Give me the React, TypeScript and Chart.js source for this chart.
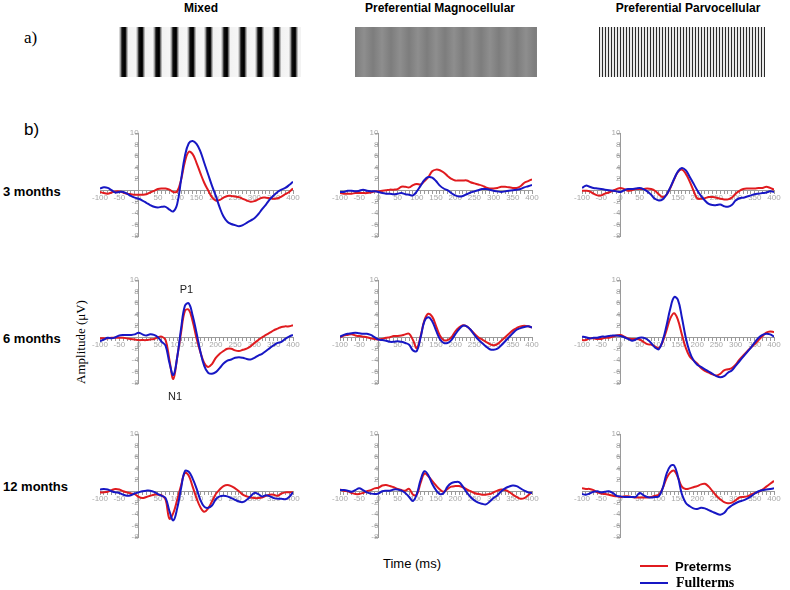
import React, { useEffect, useRef } from "react";
import { Chart, registerables } from "chart.js";
Chart.register(...registerables);

// Time axis (ms)
const timesMs = [-100, -90, -80, -70, -60, -50, -40, -30, -20, -10, 0, 10, 20, 30, 40, 50, 60, 70, 80, 90, 100, 110, 120, 130, 140, 150, 160, 170, 180, 190, 200, 210, 220, 230, 240, 250, 260, 270, 280, 290, 300, 310, 320, 330, 340, 350, 360, 370, 380, 390, 400];
const xTickLabels = [-100, -50, 0, 50, 100, 150, 200, 250, 300, 350, 400];
const yTickLabels = [-8, -6, -4, -2, 2, 4, 6, 8, 10];

const columnTitles = ["Mixed", "Preferential Magnocellular", "Preferential Parvocellular"];
const rowTitles = ["3 months", "6 months", "12 months"];
const seriesNames = ["Preterms", "Fullterms"];

// 3 months
const mixed3Pre = [-0.3, -0.5, -0.6, -0.4, -0.2, -0.2, -0.4, -0.6, -0.7, -0.8, -0.8, -0.8, -0.7, -0.4, -0.1, 0.2, 0.3, 0.3, 0.1, -0.3, -0.2, 1.8, 5.0, 6.7, 6.3, 4.8, 3.0, 1.3, 0.0, -1.2, -1.8, -1.7, -1.3, -1.0, -1.0, -1.1, -1.2, -1.5, -1.8, -2.0, -1.9, -1.6, -1.3, -1.3, -1.4, -1.5, -1.4, -1.1, -0.7, -0.3, 0.3];
const mixed3Full = [0.3, 0.5, 0.4, 0.0, -0.4, -0.3, -0.3, -0.6, -1.0, -1.3, -1.5, -1.8, -2.2, -2.6, -2.9, -3.0, -2.9, -2.9, -3.4, -3.7, -2.4, 1.8, 6.0, 8.2, 8.6, 8.1, 6.8, 4.8, 2.8, 0.8, -1.0, -3.0, -4.6, -5.5, -5.9, -6.1, -6.3, -6.1, -5.7, -5.3, -4.9, -4.2, -3.3, -2.5, -1.6, -0.9, -0.3, 0.1, 0.4, 0.9, 1.5];
const magno3Pre = [-0.5, -0.6, -0.6, -0.6, -0.5, -0.5, -0.5, -0.5, -0.4, -0.2, -0.2, -0.1, 0.0, 0.1, 0.1, 0.2, 0.6, 0.6, 0.5, 0.9, 1.1, 1.0, 1.6, 2.3, 3.3, 3.6, 3.5, 3.1, 2.5, 2.0, 1.7, 1.7, 1.7, 1.7, 1.4, 1.2, 1.0, 0.8, 0.5, 0.3, 0.3, 0.4, 0.6, 0.6, 0.5, 0.4, 0.4, 0.7, 1.3, 1.6, 1.9];
const magno3Full = [-0.3, -0.3, -0.1, -0.1, -0.2, -0.1, 0.1, -0.1, -0.2, -0.2, -0.3, -0.5, -0.6, -0.6, -0.7, -0.6, -0.5, -0.7, -0.8, -0.9, -0.2, 0.8, 1.8, 2.3, 2.2, 1.6, 0.8, 0.3, 0.0, -0.5, -0.9, -1.1, -1.0, -0.7, -0.4, -0.2, 0.0, 0.2, 0.2, 0.1, -0.1, -0.2, -0.3, -0.2, -0.1, 0.0, 0.1, 0.2, 0.5, 0.7, 0.9];
const parvo3Pre = [-0.1, -0.1, -0.2, -0.6, -0.9, -0.9, -0.6, -0.4, -0.1, 0.2, 0.4, 0.2, -0.1, 0.0, 0.2, 0.2, 0.2, 0.3, 0.2, -0.1, -0.7, -1.2, -0.8, 0.4, 1.9, 3.2, 3.6, 2.9, 1.6, 0.0, -1.4, -1.5, -1.4, -1.2, -1.2, -1.3, -1.5, -1.6, -1.6, -1.3, -0.6, -0.1, 0.2, 0.3, 0.3, 0.3, 0.4, 0.4, 0.6, 0.4, 0.1];
const parvo3Full = [0.4, 0.8, 0.6, 0.4, 0.3, 0.2, 0.1, 0.0, -0.1, -0.2, -0.3, 0.0, 0.2, 0.2, 0.3, 0.4, 0.2, -0.2, -0.8, -1.5, -1.8, -1.6, -0.8, 0.5, 2.0, 3.3, 3.9, 3.5, 2.4, 1.2, 0.0, -1.0, -1.8, -2.4, -2.6, -2.6, -2.5, -2.8, -2.9, -2.6, -1.8, -1.4, -1.3, -1.1, -0.9, -0.7, -0.6, -0.5, -0.4, -0.2, -0.3];

// 6 months
const mixed6Pre = [-0.2, -0.2, -0.2, -0.1, -0.1, -0.1, -0.1, -0.2, -0.3, -0.4, -0.5, -0.5, -0.5, -0.4, -0.3, 0.0, 0.1, -0.5, -4.0, -7.3, -3.5, 0.8, 4.6, 4.8, 2.8, -0.2, -2.6, -4.5, -5.2, -4.7, -3.6, -2.9, -2.4, -2.0, -2.0, -2.3, -2.4, -2.2, -2.0, -1.6, -1.0, -0.5, 0.0, 0.4, 0.8, 1.2, 1.5, 1.8, 1.9, 1.9, 2.1];
const mixed6Full = [-0.7, -0.4, -0.1, -0.2, 0.0, 0.3, 0.4, 0.4, 0.4, 0.5, 0.8, 0.5, 0.3, 0.5, 0.4, 0.0, -0.8, -1.5, -4.5, -6.6, -3.5, 1.5, 5.5, 5.9, 3.8, 0.8, -2.5, -5.0, -6.2, -6.4, -6.1, -5.4, -4.6, -4.1, -3.9, -3.6, -3.5, -3.6, -3.8, -3.9, -3.6, -3.2, -2.9, -2.4, -1.9, -1.4, -1.0, -0.8, -0.3, 0.1, 0.4];
const magno6Pre = [0.0, 0.3, 0.4, 0.5, 0.3, 0.2, 0.1, 0.0, -0.2, -0.3, -0.4, -0.3, -0.1, 0.0, 0.2, 0.2, 0.3, 0.5, 0.6, -0.5, -1.9, 0.2, 3.0, 4.1, 3.6, 2.0, 0.3, -0.5, -0.5, 0.0, 1.0, 1.7, 2.1, 1.9, 1.3, 0.6, 0.0, -0.4, -0.8, -1.2, -1.4, -1.2, -0.6, 0.0, 0.6, 1.2, 1.6, 1.9, 2.0, 1.9, 1.7];
const magno6Full = [0.1, 0.4, 0.6, 0.7, 0.8, 0.7, 0.6, 0.6, 0.4, 0.0, -0.4, -0.5, -0.6, -0.8, -0.8, -0.7, -0.8, -1.0, -1.3, -2.3, -2.4, 0.0, 2.8, 3.5, 2.8, 1.2, -0.3, -1.0, -1.0, -0.5, 0.5, 1.4, 2.0, 1.9, 1.3, 0.4, -0.4, -1.0, -1.6, -2.1, -2.2, -2.0, -1.4, -0.7, 0.0, 0.7, 1.3, 1.6, 1.8, 1.9, 1.7];
const parvo6Pre = [-0.5, -0.5, -0.2, -0.2, -0.3, -0.3, -0.1, -0.1, 0.1, 0.3, 0.4, 0.1, -0.2, -0.3, -0.3, -0.4, -0.8, -1.2, -1.3, -1.6, -1.9, -0.8, 1.2, 3.3, 4.2, 3.0, 0.5, -1.8, -3.3, -4.0, -4.6, -5.4, -5.9, -6.2, -6.5, -6.7, -6.4, -5.8, -5.6, -5.4, -4.8, -3.9, -3.2, -2.5, -1.8, -1.2, -0.5, 0.2, 0.8, 1.0, 0.9];
const parvo6Full = [0.1, 0.0, -0.2, -0.1, -0.1, 0.1, 0.1, 0.2, 0.3, 0.3, 0.2, 0.0, -0.3, -0.6, -0.4, -0.1, -0.1, -0.4, -1.0, -1.8, -2.1, -0.6, 2.0, 5.0, 7.0, 6.5, 3.5, 0.0, -2.5, -4.0, -4.8, -5.2, -5.6, -6.0, -6.4, -6.8, -7.0, -6.8, -6.2, -5.8, -5.0, -4.2, -3.4, -2.6, -1.8, -0.9, -0.1, 0.4, 0.6, 0.5, 0.1];

// 12 months
const mixed12Pre = [-0.2, -0.2, -0.1, 0.2, 0.4, 0.3, 0.0, -0.2, -0.4, -0.5, -1.0, -1.2, -1.0, -0.8, -0.6, -0.6, -0.7, -1.5, -4.8, -3.8, -1.5, 1.0, 3.2, 2.7, 0.8, -1.2, -2.8, -3.6, -3.0, -1.8, -0.5, 0.3, 0.9, 1.1, 0.9, 0.5, 0.0, -0.6, -0.9, -1.1, -1.2, -1.2, -1.1, -0.8, -0.6, -0.6, -0.8, -0.4, -0.2, -0.2, -0.2];
const mixed12Full = [0.3, 0.4, 0.3, 0.0, -0.2, -0.3, -0.6, -0.8, -0.7, -0.4, -0.2, 0.0, 0.1, 0.1, -0.1, -0.5, -0.8, -1.2, -3.5, -5.1, -3.0, 0.5, 3.5, 3.4, 2.2, 0.5, -1.5, -2.7, -2.9, -2.5, -1.4, -0.9, -0.8, -0.9, -1.2, -1.5, -1.8, -1.9, -1.5, -0.9, -0.3, -0.5, -0.9, -0.7, -0.9, -1.2, -1.3, -1.3, -1.4, -1.0, -0.2];
const magno12Pre = [0.3, 0.1, 0.0, -0.3, -0.5, -0.5, -0.3, 0.0, 0.2, 0.5, 0.6, 1.0, 1.1, 0.9, 0.7, 0.4, 0.2, 0.1, 0.4, -0.6, -0.6, 1.5, 3.1, 2.6, 1.8, 1.0, 0.3, -0.1, 0.4, 0.8, 0.9, 0.9, 0.7, 0.3, 0.0, -0.3, -0.5, -0.6, -0.6, -0.5, -0.2, 0.1, 0.3, 0.2, -0.1, -0.6, -1.0, -1.3, -1.2, -0.7, -0.2];
const magno12Full = [0.2, 0.2, 0.1, -0.1, 0.2, 0.5, 0.2, -0.2, -0.4, -0.5, -0.4, 0.0, 0.1, 0.1, 0.3, 0.3, 0.1, -0.3, -1.0, -1.7, -0.5, 2.0, 3.5, 2.8, 1.3, 0.2, -0.5, -0.3, 0.8, 1.4, 1.6, 1.6, 0.8, -0.2, -1.0, -1.6, -2.0, -2.2, -2.3, -1.8, -1.2, -0.7, 0.0, 0.5, 0.8, 1.0, 0.9, 0.5, 0.1, -0.2, -0.3];
const parvo12Pre = [0.5, 0.4, 0.4, 0.2, -0.2, -0.4, -0.5, -0.6, -0.8, -0.9, -1.0, -0.9, -0.9, -1.0, -1.1, -1.1, -1.1, -1.1, -1.0, -0.8, -0.6, 0.5, 2.2, 3.3, 3.6, 2.4, 0.8, 0.4, 0.5, 0.7, 0.9, 1.2, 1.3, 0.8, 0.0, -0.8, -1.4, -1.9, -2.1, -2.0, -1.6, -1.1, -1.0, -0.9, -0.6, -0.3, -0.1, 0.3, 0.8, 1.3, 1.8];
const parvo12Full = [-0.5, -0.6, -0.4, -0.1, 0.0, -0.2, -0.1, 0.0, -0.3, -0.8, -0.9, -1.0, -1.0, -1.0, -1.0, -0.3, -0.7, -1.0, -1.1, -1.0, -0.9, 0.5, 3.0, 4.4, 4.5, 2.5, -0.5, -2.0, -2.6, -3.0, -3.1, -2.9, -3.0, -3.3, -3.6, -3.9, -4.1, -3.8, -3.0, -2.5, -2.1, -1.8, -1.6, -1.3, -0.9, -0.4, 0.0, 0.2, 0.3, 0.4, 0.5];

const RED = "#e01b1f";
const BLUE = "#1717c4";
const AXIS = "#9a9a9a";
const TICK_TEXT = "#a8a8a8";

const PAD = { left: 25, right: 25, top: 10, bottom: 10 };
const colX = [
  [100, 293],
  [340, 532],
  [582, 774],
];
const rowY = [
  [133, 236],
  [280, 383],
  [434, 537],
];

const panels = [
  [mixed3Pre, mixed3Full, 0, 0],
  [magno3Pre, magno3Full, 1, 0],
  [parvo3Pre, parvo3Full, 2, 0],
  [mixed6Pre, mixed6Full, 0, 1],
  [magno6Pre, magno6Full, 1, 1],
  [parvo6Pre, parvo6Full, 2, 1],
  [mixed12Pre, mixed12Full, 0, 2],
  [magno12Pre, magno12Full, 1, 2],
  [parvo12Pre, parvo12Full, 2, 2],
] as const;

function Panel(props: { pre: readonly number[]; full: readonly number[]; col: number; row: number }) {
  const ref = useRef<HTMLCanvasElement>(null);
  const [l, r] = colX[props.col];
  const [t, b] = rowY[props.row];
  const w = r - l + PAD.left + PAD.right;
  const h = b - t + PAD.top + PAD.bottom;
  useEffect(() => {
    const font = { family: "'Liberation Sans', Arial, sans-serif", size: 8 };
    const chart = new Chart(ref.current as HTMLCanvasElement, {
      type: "line",
      data: {
        datasets: [
          {
            label: seriesNames[1],
            data: timesMs.map((x, i) => ({ x, y: props.full[i] })),
            borderColor: BLUE,
            borderWidth: 2,
            pointRadius: 0,
            tension: 0.4,
          },
          {
            label: seriesNames[0],
            data: timesMs.map((x, i) => ({ x, y: props.pre[i] })),
            borderColor: RED,
            borderWidth: 2,
            pointRadius: 0,
            tension: 0.4,
          },
        ],
      },
      options: {
        animation: false,
        responsive: false,
        events: [],
        layout: { padding: PAD },
        plugins: { legend: { display: false }, tooltip: { enabled: false }, title: { display: false } },
        scales: {
          x: {
            type: "linear",
            min: -100,
            max: 400,
            position: { y: 0 } as any,
            grid: { drawOnChartArea: false, drawTicks: true, tickLength: 3, color: AXIS },
            border: { color: AXIS, width: 1 },
            ticks: {
              stepSize: 10,
              autoSkip: false,
              maxRotation: 0,
              minRotation: 0,
              padding: 0,
              color: TICK_TEXT,
              font,
              callback: (v: any) => (xTickLabels.includes(Math.round(Number(v))) ? String(Math.round(Number(v))) : ""),
            },
          },
          y: {
            type: "linear",
            min: -8,
            max: 10,
            position: { x: 0 } as any,
            grid: { drawOnChartArea: false, drawTicks: true, tickLength: 3, color: AXIS },
            border: { color: AXIS, width: 1 },
            ticks: {
              stepSize: 2,
              autoSkip: false,
              padding: 2,
              color: TICK_TEXT,
              font,
              callback: (v: any) => (yTickLabels.includes(Math.round(Number(v))) ? String(Math.round(Number(v))) : ""),
            },
          },
        },
      },
    });
    return () => chart.destroy();
  }, []);
  return (
    <canvas
      ref={ref}
      width={w}
      height={h}
      style={{ position: "absolute", left: l - PAD.left, top: t - PAD.top, width: w, height: h }}
    />
  );
}

const sans = "'Liberation Sans', Arial, sans-serif";
const serif = "'Liberation Serif', 'Times New Roman', serif";

function Label(props: { x: number; y: number; text: string; style?: React.CSSProperties; anchor?: "center" | "left" }) {
  const tx = props.anchor === "left" ? "0" : "-50%";
  return (
    <div
      style={{
        position: "absolute",
        left: props.x,
        top: props.y,
        transform: `translate(${tx}, -50%)`,
        whiteSpace: "nowrap",
        lineHeight: 1,
        ...props.style,
      }}
    >
      {props.text}
    </div>
  );
}

const gratingStyles: React.CSSProperties[] = [
  {
    left: 119,
    width: 182,
    background:
      "repeating-linear-gradient(to right, #f2f2f2 0px, #9a9a9a 1.5px, #111 3px, #000 5.5px, #111 6.5px, #9a9a9a 8px, #f2f2f2 9.5px, #f6f6f6 17px)",
  },
  {
    left: 355,
    width: 182,
    background: "repeating-linear-gradient(to right, #7d7d7d 0px, #8e8e8e 9px, #7d7d7d 18px)",
  },
  {
    left: 599,
    width: 166,
    background: "repeating-linear-gradient(to right, #2a2a2a 0px, #2a2a2a 1px, #e8e8e8 1px, #e8e8e8 3px)",
  },
];

export default function App() {
  return (
    <div
      style={{
        position: "absolute",
        left: 0,
        top: 0,
        width: 790,
        height: 590,
        background: "#fff",
        overflow: "hidden",
        fontFamily: sans,
        color: "#000",
      }}
    >
      {/* Column titles */}
      <Label x={201} y={8} text={columnTitles[0]} style={{ fontWeight: "bold", fontSize: 12 }} />
      <Label x={440} y={8} text={columnTitles[1]} style={{ fontWeight: "bold", fontSize: 12 }} />
      <Label x={688} y={8} text={columnTitles[2]} style={{ fontWeight: "bold", fontSize: 12 }} />

      <Label x={24} y={37} anchor="left" text="a)" style={{ fontFamily: serif, fontSize: 17 }} />
      <Label x={24} y={129} anchor="left" text="b)" style={{ fontFamily: sans, fontSize: 17 }} />

      {gratingStyles.map((g, i) => (
        <div key={i} style={{ position: "absolute", top: 27, height: 50, ...g }} />
      ))}

      {/* Row titles */}
      <Label x={3} y={191} anchor="left" text={rowTitles[0]} style={{ fontWeight: "bold", fontSize: 13 }} />
      <Label x={3} y={338} anchor="left" text={rowTitles[1]} style={{ fontWeight: "bold", fontSize: 13 }} />
      <Label x={3} y={486} anchor="left" text={rowTitles[2]} style={{ fontWeight: "bold", fontSize: 13 }} />

      <div
        style={{
          position: "absolute",
          left: 80,
          top: 342,
          transform: "translate(-50%, -50%) rotate(-90deg)",
          whiteSpace: "nowrap",
          fontFamily: serif,
          fontSize: 13,
          lineHeight: 1,
        }}
      >
        Amplitude (μV)
      </div>

      {panels.map(([pre, full, c, r], i) => (
        <Panel key={i} pre={pre} full={full} col={c} row={r} />
      ))}

      <Label x={186.5} y={289} text="P1" style={{ fontSize: 11, color: "#222" }} />
      <Label x={175} y={396} text="N1" style={{ fontSize: 11, color: "#222" }} />

      <Label x={412} y={563} text="Time (ms)" style={{ fontSize: 13 }} />

      {/* Legend */}
      <div style={{ position: "absolute", left: 640, top: 565, width: 28, height: 2, background: RED }} />
      <div style={{ position: "absolute", left: 640, top: 582, width: 28, height: 2, background: BLUE }} />
      <Label x={675} y={566} anchor="left" text={seriesNames[0]} style={{ fontWeight: "bold", fontSize: 13 }} />
      <Label x={676} y={583} anchor="left" text={seriesNames[1]} style={{ fontWeight: "bold", fontSize: 14, fontFamily: serif }} />
    </div>
  );
}
